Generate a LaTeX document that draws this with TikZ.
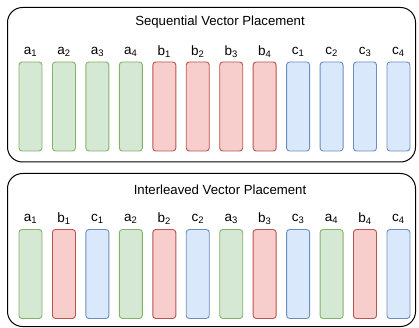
\documentclass[tikz,border=0pt]{standalone}
\usepackage{fontspec}
\setmainfont{Liberation Sans}
\definecolor{gfill}{HTML}{D5E8D4}\definecolor{gdraw}{HTML}{82B366}
\definecolor{rfill}{HTML}{F8CECC}\definecolor{rdraw}{HTML}{B85450}
\definecolor{bfill}{HTML}{DAE8FC}\definecolor{bdraw}{HTML}{6C8EBF}
\tikzset{
  panel/.style={draw=black, line width=1pt, rounded corners=15pt},
  bar/.style={rounded corners=3pt, line width=0.9pt, minimum width=23pt, minimum height=89pt, inner sep=0pt},
  ga/.style={bar, draw=gdraw, fill=gfill},
  rb/.style={bar, draw=rdraw, fill=rfill},
  bc/.style={bar, draw=bdraw, fill=bfill},
  lab/.style={font=\fontsize{13.5}{15}\selectfont, inner sep=0pt},
  ttl/.style={font=\fontsize{13.2}{15}\selectfont, inner sep=0pt}
}
\begin{document}
\begin{tikzpicture}[x=1pt,y=-1pt]
\useasboundingbox (0,0) rectangle (419,328);
\draw[panel] (7.5,7.5) rectangle (415.5,162);
\draw[panel] (7.5,173.5) rectangle (415.5,326.5);
\node[ttl] (t1) at (220,22.5) {Sequential Vector Placement};
\node[ttl] (t2) at (220,189.5) {Interleaved Vector Placement};
% sequential
\foreach \i/\s/\l in {0/ga/a\textsubscript{1},1/ga/a\textsubscript{2},2/ga/a\textsubscript{3},3/ga/a\textsubscript{4},
  4/rb/b\textsubscript{1},5/rb/b\textsubscript{2},6/rb/b\textsubscript{3},7/rb/b\textsubscript{4},
  8/bc/c\textsubscript{1},9/bc/c\textsubscript{2},10/bc/c\textsubscript{3},11/bc/c\textsubscript{4}}{
  \node[\s] (s\i) at ({30.5+33.45*\i},106.5) {};
  \node[lab] (sl\i) at ({30.5+33.45*\i},52) {\l};
}
% interleaved
\foreach \i/\s/\l in {0/ga/a\textsubscript{1},1/rb/b\textsubscript{1},2/bc/c\textsubscript{1},3/ga/a\textsubscript{2},
  4/rb/b\textsubscript{2},5/bc/c\textsubscript{2},6/ga/a\textsubscript{3},7/rb/b\textsubscript{3},
  8/bc/c\textsubscript{3},9/ga/a\textsubscript{4},10/rb/b\textsubscript{4},11/bc/c\textsubscript{4}}{
  \node[\s] (i\i) at ({30.5+33.45*\i},274) {};
  \node[lab] (il\i) at ({30.5+33.45*\i},219) {\l};
}
\end{tikzpicture}
\end{document}
